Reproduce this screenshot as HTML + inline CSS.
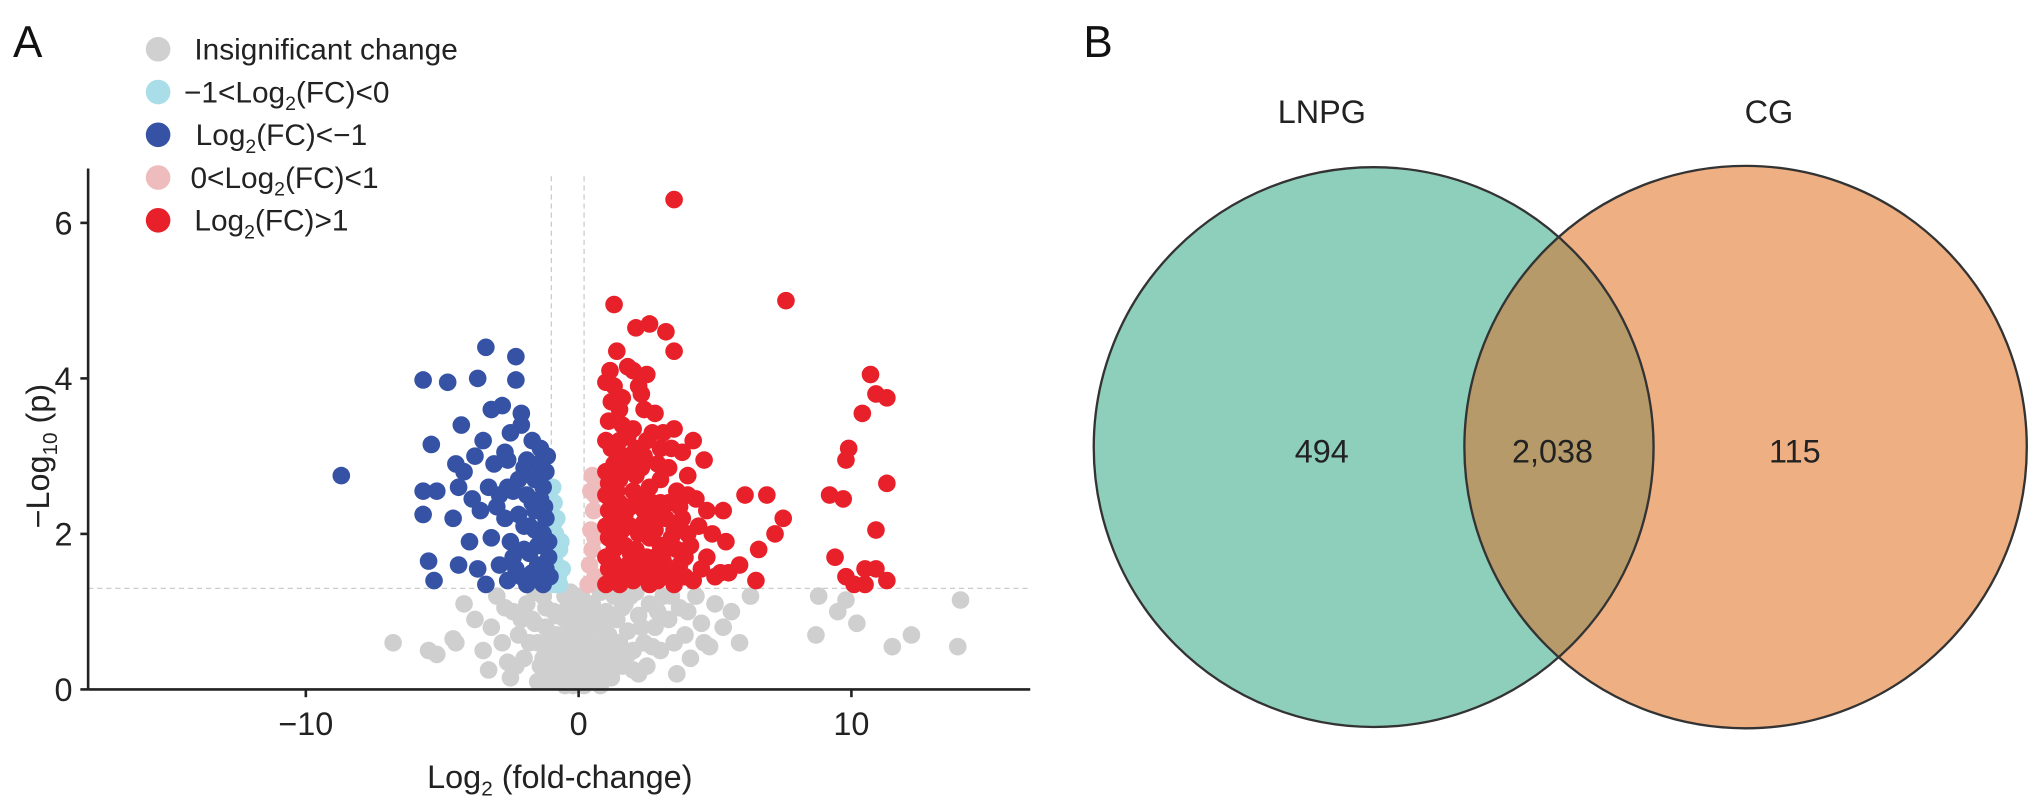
<!DOCTYPE html>
<html><head><meta charset="utf-8">
<style>
body{margin:0;background:#fff;}
svg{display:block;font-family:"Liberation Sans",Arial,sans-serif;}
</style></head>
<body>
<svg id="fig" width="2032" height="807" viewBox="0 0 2032 807">
<g transform="scale(1.2959)">
<text x="10" y="44" font-size="34" fill="#111">A</text>
<text x="836" y="44" font-size="34" fill="#111">B</text>
<g id="legend" font-size="23" fill="#222">
 <g><circle cx="122" cy="38" r="9.5" fill="#d0d0d0"/><text x="150" y="46">Insignificant change</text></g>
 <g><circle cx="122" cy="71" r="9.5" fill="#a9dde8"/><text x="142" y="79">−1&lt;Log<tspan font-size="15" dy="6">2</tspan><tspan dy="-6">(FC)&lt;0</tspan></text></g>
 <g><circle cx="122" cy="104" r="9.5" fill="#3652a5"/><text x="151" y="112">Log<tspan font-size="15" dy="6">2</tspan><tspan dy="-6">(FC)&lt;−1</tspan></text></g>
 <g><circle cx="122" cy="137" r="9.5" fill="#eebcbc"/><text x="147" y="145">0&lt;Log<tspan font-size="15" dy="6">2</tspan><tspan dy="-6">(FC)&lt;1</tspan></text></g>
 <g><circle cx="122" cy="170" r="9.5" fill="#e8202a"/><text x="150" y="178">Log<tspan font-size="15" dy="6">2</tspan><tspan dy="-6">(FC)&gt;1</tspan></text></g>
</g>
<g id="plot"></g>
<g id="venn"></g>
</g>
</svg>
<script>
const xTicks=[-10,0,10];
const yTicks=[0,2,4,6];
const thresholdY=1.3;
const vLines=[-1,0.2];
const grayPts=[[-6.8,0.6],[-5.5,0.5],[-5.2,0.45],[-4.6,0.65],[-4.5,0.6],[-4.2,1.1],[-3.8,0.9],[-3.5,0.5],[-3.2,0.8],[-3,1.2],[-2.8,0.6],[-2.6,0.35],[-2.4,1.0],[-2.2,0.7],[-2,0.4],[-1.9,1.1],[-1.7,0.9],[-1.5,0.6],[-1.4,0.3],[-1.3,1.2],[-1.2,0.8],[-1.1,0.5],[-1,0.2],[-0.9,1.0],[-0.8,0.7],[-0.7,0.4],[-0.6,0.15],[-0.5,1.2],[-0.5,0.9],[-0.4,0.6],[-0.3,0.3],[-0.2,0.1],[-0.1,1.0],[-0.1,0.5],[0,0.8],[0,0.2],[0.1,1.2],[0.1,0.6],[0.2,0.35],[0.3,0.95],[0.3,0.1],[0.4,0.7],[0.5,1.1],[0.5,0.45],[0.6,0.2],[0.7,0.85],[0.8,1.25],[0.8,0.55],[0.9,0.3],[1,1.0],[1.1,0.7],[1.2,0.45],[1.3,1.2],[1.4,0.9],[1.5,0.6],[1.6,0.3],[1.7,1.1],[1.8,0.75],[2,0.5],[2.1,1.25],[2.2,0.95],[2.4,0.6],[2.5,0.3],[2.6,1.1],[2.8,0.8],[3,0.5],[3.1,1.2],[3.3,0.9],[3.5,0.6],[3.7,1.05],[3.9,0.7],[4.1,0.4],[4.3,1.2],[4.5,0.85],[4.8,0.55],[5,1.1],[5.3,0.8],[5.6,1.0],[5.9,0.6],[6.3,1.2],[-2.5,0.15],[-1.5,0.1],[-0.9,0.25],[1.2,0.15],[2.2,0.2],[-3.3,0.25],[8.7,0.7],[8.8,1.2],[9.5,1.0],[9.8,1.15],[10.2,0.85],[11.5,0.55],[12.2,0.7],[13.9,0.55],[14,1.15],[-0.3,1.25],[0.6,1.0],[-1.6,1.25],[2.9,1.0],[3.6,0.2],
[-0.2,0.05],[0.2,0.05],[-0.4,0.2],[0.4,0.25],[-0.6,0.45],[0.6,0.6],[-0.8,0.95],[0.9,0.8],[-1.2,1.05],[1.2,0.95],[-0.1,0.7],[0.1,0.85],[-0.3,0.8],[0.3,0.5],[-0.7,0.6],[0.7,0.35],[-1.0,0.7],[1.0,0.55],[-1.3,0.4],[1.4,0.35],[-1.8,0.6],[1.8,0.45],[-2.1,0.9],[2.3,0.8],[-0.5,0.05],[0.5,0.1],[1.6,1.05],[-1.6,0.85],[2.7,0.55],[-2.3,0.3],[0.0,1.1],[0.0,0.45],[-0.9,0.5],[1.9,1.2],[3.4,1.2],[2.0,0.25],[-1.1,0.1],[4.0,1.0],[-2.7,1.05],[4.6,0.6],[0.2,0.75],[-0.4,1.05],[0.8,0.05],[-0.8,0.1]];
const lightBluePts=[[-0.9,2.4],[-0.8,2.2],[-0.85,2.0],[-0.7,1.8],[-0.8,1.6],[-0.75,1.45],[-0.9,1.35],[-0.6,1.55],[-0.65,1.9],[-0.95,2.6],[-0.7,1.35],[-0.85,1.75],[-0.9,2.15]];
const bluePts=[[-8.7,2.75],[-5.7,3.98],[-4.8,3.95],[-3.4,4.4],[-2.3,4.28],[-2.3,3.98],[-3.7,4.0],[-3.2,3.6],[-2.8,3.65],[-4.3,3.4],[-5.4,3.15],[-3.5,3.2],[-2.5,3.3],[-2.1,3.4],[-1.7,3.2],[-1.4,3.1],[-4.5,2.9],[-4.2,2.8],[-3.1,2.9],[-2.6,2.95],[-2.0,2.85],[-1.5,2.9],[-5.7,2.55],[-5.2,2.55],[-4.4,2.6],[-3.9,2.45],[-3.3,2.6],[-2.9,2.5],[-2.4,2.55],[-1.9,2.5],[-1.3,2.6],[-5.7,2.25],[-4.6,2.2],[-3.6,2.3],[-2.7,2.2],[-2.2,2.25],[-1.8,2.1],[-1.2,2.2],[-4.0,1.9],[-3.2,1.95],[-2.5,1.9],[-2.0,1.8],[-1.5,1.85],[-1.1,1.9],[-5.5,1.65],[-4.4,1.6],[-3.7,1.55],[-2.9,1.6],[-2.3,1.55],[-1.7,1.5],[-1.2,1.55],[-5.3,1.4],[-3.4,1.35],[-2.6,1.4],[-1.9,1.35],[-1.4,1.4],[-1.05,1.45],[-2.7,3.05],[-2.2,2.7],[-1.6,2.7],[-1.25,2.35],[-1.6,2.3],[-1.1,1.7],[-2.1,3.55],[-3.8,3.0],
[-1.3,2.0],[-1.5,1.6],[-1.8,1.75],[-1.2,2.8],[-1.7,2.4],[-2.0,2.1],[-1.4,2.45],[-2.4,1.7],[-1.3,1.35],[-1.6,2.05],[-2.1,1.45],[-1.9,2.95],[-2.6,2.6],[-3.0,2.35],[-1.15,3.0]];
const pinkPts=[[0.5,2.75],[0.6,2.5],[0.55,2.3],[0.45,2.05],[0.5,1.8],[0.4,1.6],[0.6,1.45],[0.35,1.35],[0.7,2.6],[0.45,2.55],[0.6,1.95]];
const redPts=[[3.5,6.3],[7.6,5.0],[10.7,4.05],[10.9,3.8],[11.3,3.75],[10.4,3.55],[9.9,3.1],[9.8,2.95],[9.2,2.5],[9.7,2.45],[11.3,2.65],[10.9,2.05],[9.4,1.7],[10.5,1.55],[10.9,1.55],[9.8,1.45],[11.3,1.4],[10.1,1.35],[10.5,1.35],[7.5,2.2],[6.9,2.5],[7.2,2.0],[6.1,2.5],[5.9,1.6],[5.4,1.9],[6.6,1.8],[6.5,1.4],[5.5,1.5],[5.3,2.3],[4.7,2.3],
[1.3,4.95],[2.1,4.65],[2.6,4.7],[3.2,4.6],[3.5,4.35],[1.4,4.35],[1.8,4.15],[2.0,4.1],[2.5,4.05],[1.0,3.95],[1.3,3.9],[2.3,3.8],[2.4,3.6],[1.1,3.45],[1.6,3.4],[2.0,3.35],[3.1,3.3],[3.5,3.35],[4.2,3.2],[3.8,3.05],[4.6,2.95],[2.4,3.0],[1.2,3.1],[1.7,3.0],[2.9,2.9],[3.3,2.85],[4.0,2.75],[1.0,2.8],[1.5,2.7],[2.1,2.75],[2.6,2.6],[3.6,2.55],[4.3,2.45],[1.2,2.4],[1.9,2.35],[2.4,2.3],[3.0,2.4],[3.8,2.2],[4.4,2.1],[1.0,2.1],[1.6,2.05],[2.2,2.0],[2.8,2.05],[3.4,1.95],[4.1,1.85],[1.3,1.8],[1.9,1.75],[2.5,1.7],[3.1,1.65],[3.7,1.6],[4.5,1.55],[1.1,1.55],[1.7,1.5],[2.3,1.45],[2.9,1.4],[3.5,1.35],[4.2,1.4],[1.0,1.35],[1.5,1.35],[2.0,1.4],[2.6,1.35],[3.2,1.5],[3.9,1.45],[5.0,1.45],[1.2,3.7],[1.5,3.2],[1.8,2.85],[2.7,3.3],[3.4,3.1],[1.4,2.55],[2.0,2.55],[3.2,2.2],[2.6,1.95],[1.1,1.95],[1.4,2.15],[4.7,1.7],[4.0,2.5],[2.2,3.9],[1.6,3.75],[1.1,2.3],[3.6,1.8],[2.4,2.15],[1.8,1.6],[3.0,1.85],[4.9,2.0],[5.2,1.5],[1.25,1.65],[2.1,3.1],
[1.0,1.7],[1.0,2.5],[1.0,3.2],[1.1,2.65],[1.2,2.0],[1.3,1.45],[1.3,2.9],[1.4,1.95],[1.5,1.55],[1.5,2.4],[1.6,2.85],[1.7,1.85],[1.7,2.25],[1.8,3.25],[1.9,2.1],[2.0,1.6],[2.0,2.95],[2.1,1.8],[2.2,2.5],[2.3,1.65],[2.3,2.85],[2.5,2.15],[2.5,3.2],[2.6,1.55],[2.7,2.4],[2.8,1.7],[2.9,2.25],[3.0,1.45],[3.0,2.7],[3.2,1.8],[3.3,2.4],[3.5,2.05],[3.6,1.5],[3.7,2.35],[3.9,1.7],[4.0,2.0],[1.15,4.1],[1.5,3.6],[2.8,3.55],[3.0,3.1]];
const vennLabels=["LNPG","CG"];
const vennCounts=["494","2,038","115"];

const NS="http://www.w3.org/2000/svg";
function mk(tag,attrs,parent){const e=document.createElementNS(NS,tag);for(const k in attrs)e.setAttribute(k,attrs[k]);parent.appendChild(e);return e;}
const plot=document.getElementById('plot');
const X0=68,X1=795,Y0=532;
const sx=v=>446.5+v*21.05;
const sy=v=>Y0-v*60;
const th=mk('line',{x1:X0,x2:X1,y1:sy(thresholdY),y2:sy(thresholdY),stroke:'#ccc','stroke-width':1,'stroke-dasharray':'4,3'},plot);


vLines.forEach(v=>{const l=mk('line',{x1:sx(v),x2:sx(v),y1:sy(6.6),y2:Y0,stroke:'#ccc','stroke-width':1,'stroke-dasharray':'4,3'},plot);

});
function dots(arr,col,name){const g=mk('g',{fill:col},plot);


arr.forEach(p=>{const c=mk('circle',{cx:sx(p[0]),cy:sy(p[1]),r:6.8},g);

});}
dots(grayPts,'#cfcfcf','insignificant-points');
dots(lightBluePts,'#a9dde8','light-down-points');
dots(bluePts,'#3652a5','down-points');
dots(pinkPts,'#eebcbc','light-up-points');
dots(redPts,'#e8202a','up-points');
const ya=mk('line',{x1:X0,x2:X0,y1:130,y2:Y0,stroke:'#222','stroke-width':2},plot);


const xa=mk('line',{x1:X0,x2:X1,y1:Y0,y2:Y0,stroke:'#222','stroke-width':2},plot);


yTicks.forEach(t=>{mk('line',{x1:X0-6,x2:X0,y1:sy(t),y2:sy(t),stroke:'#222','stroke-width':2},plot);
const tx=mk('text',{x:X0-12,y:sy(t)+9,'text-anchor':'end','font-size':25,fill:'#222'},plot);tx.textContent=t;

});
xTicks.forEach(t=>{mk('line',{x1:sx(t),x2:sx(t),y1:Y0,y2:Y0+6,stroke:'#222','stroke-width':2},plot);
const tx=mk('text',{x:sx(t),y:Y0+35,'text-anchor':'middle','font-size':25,fill:'#222'},plot);tx.textContent=(t<0?'−'+(-t):t);

});
const xl=mk('text',{x:432,y:608,'text-anchor':'middle','font-size':25,fill:'#222'},plot);
xl.innerHTML='Log<tspan font-size="16" dy="6">2</tspan><tspan dy="-6"> (fold-change)</tspan>';


const yl=mk('text',{x:0,y:0,'text-anchor':'middle','font-size':25,fill:'#222',transform:'translate(38,352) rotate(-90)'},plot);
yl.innerHTML='−Log<tspan font-size="16" dy="6">10</tspan><tspan dy="-6"> (p)</tspan>';


const venn=document.getElementById('venn');
const defs=mk('defs',{},venn);
const cp=mk('clipPath',{id:'clipL'},defs);mk('circle',{cx:1060,cy:345,r:216},cp);
const cL=mk('circle',{cx:1060,cy:345,r:216,fill:'#8ecfbb'},venn);


const cR=mk('circle',{cx:1347,cy:345,r:217,fill:'#eeb083'},venn);


const ov=mk('circle',{cx:1347,cy:345,r:217,fill:'#b69a6a','clip-path':'url(#clipL)'},venn);


mk('circle',{cx:1060,cy:345,r:216,fill:'none',stroke:'#333','stroke-width':1.8},venn);
mk('circle',{cx:1347,cy:345,r:217,fill:'none',stroke:'#333','stroke-width':1.8},venn);
[[1020,vennLabels[0]],[1365,vennLabels[1]]].forEach((p,i)=>{const t=mk('text',{x:p[0],y:95,'text-anchor':'middle','font-size':25,fill:'#222'},venn);t.textContent=p[1];

});
[1020,1198,1385].forEach((x,i)=>{const t=mk('text',{x:x,y:357,'text-anchor':'middle','font-size':25,fill:'#222'},venn);t.textContent=vennCounts[i];

});
</script>
</body></html>
